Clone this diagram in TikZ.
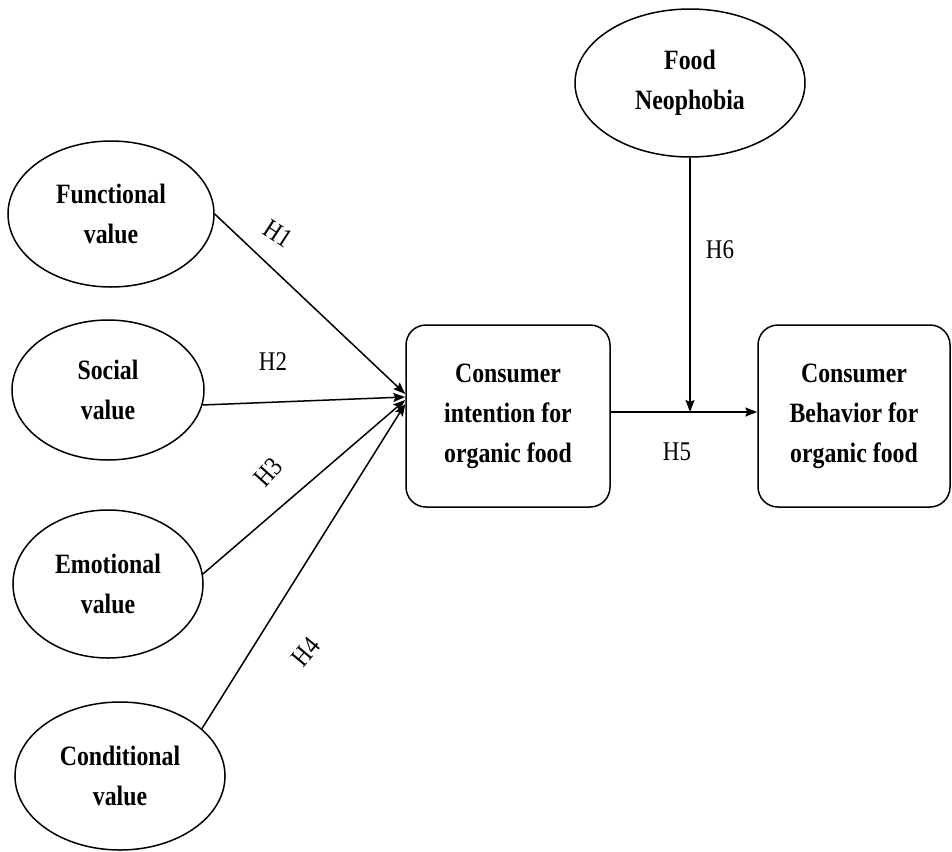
\documentclass[tikz,border=0pt]{standalone}
\usepackage{fontspec}
\setmainfont[FakeStretch=0.85]{Liberation Serif}
\usetikzlibrary{shapes.geometric,arrows.meta,calc}

\tikzset{
  oval/.style={ellipse, draw, line width=0.75pt, inner sep=0pt, align=center,
               font=\fontsize{14}{20}\selectfont\bfseries},
  card/.style={rectangle, rounded corners=10pt, draw, line width=0.75pt, inner sep=0pt,
               align=center, font=\fontsize{14}{20}\selectfont\bfseries},
  link/.style={line width=0.75pt, -{Stealth[length=6pt,width=4.5pt,inset=1pt]}},
  hyp/.style={font=\fontsize{13.5}{16}\selectfont, inner sep=0pt}
}

\begin{document}
\begin{tikzpicture}[x=0.5pt, y=-0.5pt]
  % page frame
  \fill[white] (0,0) rectangle (952,851);
  \useasboundingbox (0,0) rectangle (952,851);

  % perceived value constructs
  \node[oval, minimum width=103pt, minimum height=73pt] (fv) at (111,214) {Functional\\value};
  \node[oval, minimum width=96pt,  minimum height=70pt] (sv) at (108,390) {Social\\value};
  \node[oval, minimum width=95pt,  minimum height=74pt] (ev) at (108,584) {Emotional\\value};
  \node[oval, minimum width=105pt, minimum height=74pt] (cv) at (120,776) {Conditional\\value};

  % moderator
  \node[oval, minimum width=115pt, minimum height=74pt] (fn) at (690,83) {Food\\Neophobia};

  % intention and behaviour
  \node[card, minimum width=102pt, minimum height=91pt] (ci) at (508,416) {Consumer\\intention for\\organic food};
  \node[card, minimum width=96pt,  minimum height=91pt] (cb) at (854,416) {Consumer\\Behavior for\\organic food};

  % arrow ends on the intention box
  \coordinate (t1) at ($(ci.west)+(0,-22)$);
  \coordinate (t2) at ($(ci.west)+(0,-19)$);
  \coordinate (t3) at ($(ci.west)+(0,-16)$);
  \coordinate (t4) at ($(ci.west)+(0,-12)$);
  \coordinate (m)  at (690,412);

  % H1 - H4
  \draw[link] (fv.east) -- (t1);
  \draw[link] (sv.-9)   -- (t2);
  \draw[link] (ev.6)    -- (t3);
  \draw[link] (cv.30)   -- (t4);

  % H5 and H6
  \draw[link] (ci.east |- m) -- (cb.west |- m);
  \draw[link] (fn.south) -- (m);

  % hypothesis labels
  \node[hyp, rotate=-33] (h1) at (278,234) {H1};
  \node[hyp]             (h2) at (273,362) {H2};
  \node[hyp, rotate=48]  (h3) at (268,472) {H3};
  \node[hyp, rotate=50]  (h4) at (306,652) {H4};
  \node[hyp]             (h5) at (677,452) {H5};
  \node[hyp]             (h6) at (720,250) {H6};
\end{tikzpicture}
\end{document}
